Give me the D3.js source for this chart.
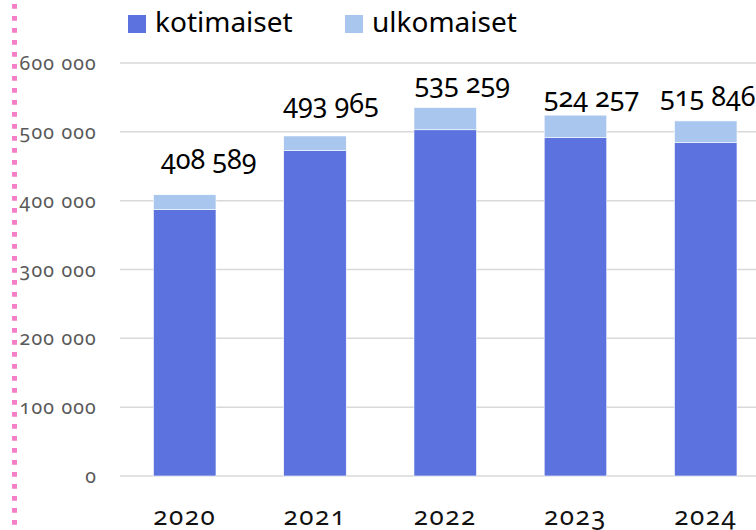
<!DOCTYPE html>
<html lang="fi">
<head>
<meta charset="UTF-8">
<title>kotimaiset / ulkomaiset</title>
<script src="https://cdn.jsdelivr.net/npm/d3@7"></script>
<style>
  body { margin: 0; background: #fff; }
  svg { display: block; font-family: "Noto Sans", "Lato", sans-serif; font-feature-settings: "onum" 1; font-variant-numeric: oldstyle-nums; }
</style>
</head>
<body>
<script>

    const years = ["2020", "2021", "2022", "2023", "2024"];
    const kotimaiset = [386900, 472600, 503000, 491500, 484200];
    const ulkomaiset = [21689, 21365, 32259, 32757, 31646];
    const yTicks = [0, 100000, 200000, 300000, 400000, 500000, 600000];
    const seriesNames = ["kotimaiset", "ulkomaiset"];

    // hand placed data labels in the original: [dx from bar centre, gap above bar]
    const labelNudge = [[24, 26], [16, 23], [17, 15], [16, 8], [2, 15]];

    const width = 756;
    const height = 530;
    const colors = ["#5b72df", "#a8c6ee"];

    const rows = years.map((y, i) => ({year: y, kotimaiset: kotimaiset[i], ulkomaiset: ulkomaiset[i]}));
    const stacked = d3.stack().keys(seriesNames)(rows);

    const fmt = v => d3.format(",")(v).replace(/,/g, " ");

    const x = d3.scaleBand()
        .domain(years)
        .range([119.6, 770.85])
        .paddingInner(0.52)
        .paddingOuter(0.26);

    const y = d3.scaleLinear()
        .domain([0, 600000])
        .range([476, 63]);

    const svg = d3.select("body").append("svg")
        .attr("width", width)
        .attr("height", height);

    // pink dotted margin line
    svg.append("line")
        .attr("x1", 14.5).attr("x2", 14.5)
        .attr("y1", 4).attr("y2", height)
        .attr("stroke", "#f47fc8")
        .attr("stroke-width", 5)
        .attr("stroke-dasharray", "4.7,7.3");

    // gridlines
    svg.append("g")
        .selectAll("line")
        .data(yTicks)
        .join("line")
        .attr("x1", 120).attr("x2", width)
        .attr("y1", d => y(d)).attr("y2", d => y(d))
        .attr("stroke", "#d9d9d9")
        .attr("stroke-width", 1.5);

    // y tick labels
    svg.append("g")
        .attr("fill", "#595959")
        .attr("font-size", 19.5)
        .attr("text-anchor", "end")
        .selectAll("text")
        .data(yTicks)
        .join("text")
        .attr("x", 97)
        .attr("y", d => y(d) + 7)
        .attr("letter-spacing", 1.2)
        .text(fmt);

    // bars
    svg.append("g")
        .selectAll("g")
        .data(stacked)
        .join("g")
        .attr("fill", (d, i) => colors[i])
        .selectAll("rect")
        .data(d => d)
        .join("rect")
        .attr("x", d => x(d.data.year))
        .attr("y", d => y(d[1]))
        .attr("width", x.bandwidth())
        .attr("height", d => y(d[0]) - y(d[1]))
        .attr("stroke", "#fff")
        .attr("stroke-width", 0.6);

    // total labels
    const topLayer = stacked[stacked.length - 1];
    svg.append("g")
        .attr("font-size", 27)
        .attr("fill", "#000")
        .attr("text-anchor", "middle")
        .selectAll("text")
        .data(topLayer)
        .join("text")
        .attr("x", (d, i) => x(d.data.year) + x.bandwidth() / 2 + labelNudge[i][0])
        .attr("y", (d, i) => y(d[1]) - labelNudge[i][1])
        .text(d => fmt(d[1]));

    // x labels
    svg.append("g")
        .attr("font-size", 26)
        .attr("fill", "#111")
        .attr("text-anchor", "middle")
        .selectAll("text")
        .data(years)
        .join("text")
        .attr("x", d => x(d) + x.bandwidth() / 2)
        .attr("y", 525)
        .attr("letter-spacing", 1.5)
        .text(d => d);

    // legend
    const legend = svg.append("g")
        .selectAll("g")
        .data(seriesNames)
        .join("g")
        .attr("transform", (d, i) => `translate(${[128, 345][i]}, 15)`);

    legend.append("rect")
        .attr("width", 18).attr("height", 18)
        .attr("fill", (d, i) => colors[i]);

    legend.append("text")
        .attr("x", 27).attr("y", 17)
        .attr("font-size", 28)
        .attr("fill", "#000")
        .text(d => d);

</script>
</body>
</html>
